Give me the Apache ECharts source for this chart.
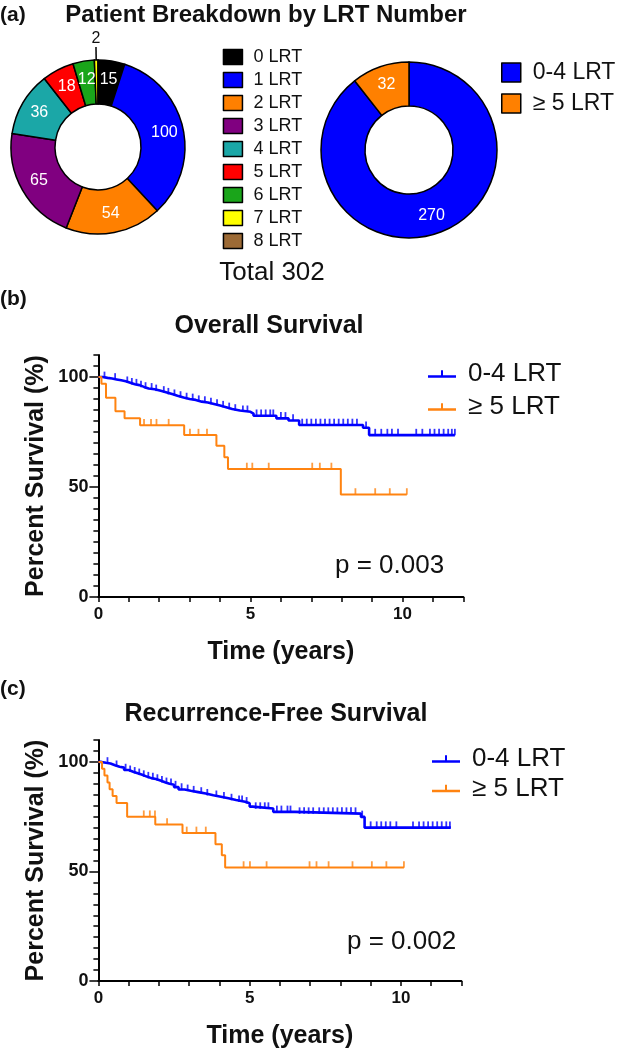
<!DOCTYPE html>
<html>
<head>
<meta charset="utf-8">
<script src="https://cdn.jsdelivr.net/npm/echarts@6/dist/echarts.min.js"></script>
<style>html,body{margin:0;padding:0;background:#fff}#c{width:617px;height:1050px}</style>
</head>
<body>
<div id="c"></div>
<script>
// ---------- DATA ----------
const lrtCategories = ['0 LRT','1 LRT','2 LRT','3 LRT','4 LRT','5 LRT','6 LRT','7 LRT','8 LRT'];
const lrtCounts = [15, 100, 54, 65, 36, 18, 12, 2, 0];
const groupCategories = ['0-4 LRT', '\u2265 5 LRT'];
const groupCounts = [270, 32];
const totalLabel = 'Total 302';
const timeTickLabels = [0, 5, 10];
const survivalTickLabels = [0, 50, 100];
const pValueOS = 'p = 0.003';
const pValueRFS = 'p = 0.002';

// Overall survival, 0-4 LRT: [years, % surviving] after each drop
const osLowSteps = [[0,100],[0.15,99.6],[0.3,99.3],[0.45,98.9],[0.6,98.5],[0.75,98.1],[0.9,97.4],[1.05,96.7],[1.2,96.3],[1.35,95.5],[1.5,94.8],[1.65,94.4],[1.85,93.7],[2.05,93.0],[2.25,92.2],[2.45,91.5],[2.6,90.7],[2.8,90.0],[3.0,89.6],[3.2,88.8],[3.4,88.4],[3.6,87.7],[3.8,87.0],[4.0,86.3],[4.2,85.5],[4.4,84.8],[4.65,84.2],[5.0,83.4],[5.1,82.4],[5.85,81.2],[6.25,80.2],[6.6,78.2],[8.7,76.9],[8.9,73.6],[11.72,73.6]];
const osLowCensor = [[0.2,99.6],[0.55,98.9],[0.95,97.4],[1.1,96.7],[1.25,96.3],[1.4,95.5],[1.55,94.8],[1.75,94.4],[1.9,93.7],[2.15,93.0],[2.3,92.2],[2.5,91.5],[2.7,90.7],[2.9,90.0],[3.1,89.6],[3.3,88.8],[3.5,88.4],[3.7,87.7],[3.9,87.0],[4.1,86.3],[4.3,85.5],[4.5,84.8],[4.75,84.2],[4.9,84.2],[5.2,82.4],[5.35,82.4],[5.5,82.4],[5.65,82.4],[5.75,82.4],[6.0,81.2],[6.15,81.2],[6.4,80.2],[6.7,78.2],[6.85,78.2],[7.0,78.2],[7.15,78.2],[7.3,78.2],[7.45,78.2],[7.6,78.2],[7.75,78.2],[7.9,78.2],[8.05,78.2],[8.2,78.2],[8.35,78.2],[8.5,78.2],[8.8,76.9],[9.1,73.6],[9.3,73.6],[9.5,73.6],[9.65,73.6],[9.85,73.6],[10.45,73.6],[10.65,73.6],[10.9,73.6],[11.05,73.6],[11.2,73.6],[11.35,73.6],[11.5,73.6],[11.62,73.6],[11.72,73.6]];
// Overall survival, >=5 LRT
const osHighSteps = [[0,100],[0.1,96.9],[0.25,90.6],[0.56,84.4],[0.86,81.3],[1.37,78.1],[2.82,73.6],[3.88,68.8],[4.14,63.5],[4.26,58.2],[7.97,46.6],[10.14,46.6]];
const osHighCensor = [[1.5,78.1],[1.73,78.1],[1.91,78.1],[2.31,78.1],[3.01,73.6],[3.29,73.6],[3.57,73.6],[4.88,58.2],[5.06,58.2],[5.6,58.2],[7.03,58.2],[7.28,58.2],[7.66,58.2],[8.45,46.6],[9.1,46.6],[9.58,46.6],[10.14,46.6]];

// Recurrence-free survival, 0-4 LRT
const rfsLowSteps = [[0,100],[0.1,99.6],[0.25,99.3],[0.4,98.5],[0.55,97.8],[0.7,97.4],[0.85,96.3],[1.0,95.5],[1.15,94.8],[1.3,94.1],[1.45,93.3],[1.6,92.6],[1.75,92.2],[1.9,91.5],[2.05,90.7],[2.2,90.0],[2.35,89.6],[2.5,88.5],[2.65,87.4],[2.85,86.8],[3.05,86.2],[3.3,85.6],[3.55,84.8],[3.8,84.1],[4.05,83.4],[4.3,82.6],[4.55,81.8],[4.85,81.1],[5.0,79.6],[5.1,78.7],[5.78,77.2],[6.5,76.4],[8.68,74.9],[8.8,70.0],[11.65,70.0]];
const rfsLowCensor = [[0.3,99.3],[0.6,97.8],[0.9,96.3],[1.05,95.5],[1.2,94.8],[1.35,94.1],[1.5,93.3],[1.65,92.6],[1.8,92.2],[1.95,91.5],[2.1,90.7],[2.25,90.0],[2.4,89.6],[2.55,88.5],[2.75,87.4],[2.95,86.8],[3.15,86.2],[3.4,85.6],[3.6,84.8],[3.9,84.1],[4.15,83.4],[4.4,82.6],[4.65,81.8],[4.75,81.8],[4.9,81.1],[5.2,78.7],[5.35,78.7],[5.5,78.7],[5.62,78.7],[5.9,77.2],[6.05,77.2],[6.25,77.2],[6.35,77.2],[6.65,76.4],[6.8,76.4],[6.95,76.4],[7.1,76.4],[7.3,76.4],[7.45,76.4],[7.6,76.4],[7.75,76.4],[7.9,76.4],[8.05,76.4],[8.2,76.4],[8.35,76.4],[8.5,76.4],[8.72,74.9],[9.0,70.0],[9.2,70.0],[9.35,70.0],[9.5,70.0],[9.65,70.0],[9.85,70.0],[10.4,70.0],[10.6,70.0],[10.75,70.0],[10.9,70.0],[11.05,70.0],[11.2,70.0],[11.35,70.0],[11.5,70.0],[11.62,70.0]];
// Recurrence-free survival, >=5 LRT
const rfsHighSteps = [[0,100],[0.12,96.9],[0.2,93.8],[0.3,90.6],[0.37,87.5],[0.47,84.4],[0.6,81.3],[0.95,75.0],[1.88,71.4],[2.78,67.6],[3.87,62.4],[4.08,57.4],[4.19,51.8],[10.1,51.8]];
const rfsHighCensor = [[1.5,75.0],[1.7,75.0],[1.87,75.0],[2.27,71.4],[2.92,67.6],[3.24,67.6],[3.55,67.6],[4.8,51.8],[5.01,51.8],[5.56,51.8],[6.98,51.8],[7.21,51.8],[7.61,51.8],[8.4,51.8],[9.04,51.8],[9.52,51.8],[10.1,51.8]];

// ---------- STYLE ----------
const FONT = '"Liberation Sans", Arial, Helvetica, sans-serif';
const TXT = '#111';
const BLUE = '#0000ff';
const ORANGE = '#ff8310';
const lrtColors = ['#000000', BLUE, '#ff8000', '#800080', '#1ba7a7', '#ff0000', '#1aa51a', '#ffff00', '#9c6a35'];
const groupColors = [BLUE, '#ff8000'];
const KM_ICON = 'path://M0,7H28V9.5H0Z M13,2H15,V7H13Z';

const chart = echarts.init(document.getElementById('c'), null, {renderer: 'canvas'});

function xAxisFor(grid) {
  return {
    gridIndex: grid, type: 'value', min: 0, max: 12, interval: 1,
    axisLine: {lineStyle: {color: '#000', width: 2}},
    axisTick: {length: 5, lineStyle: {color: '#000', width: 1.5}},
    axisLabel: {margin: 9, fontSize: 17, fontWeight: 'bold', color: TXT, fontFamily: FONT,
      formatter: v => timeTickLabels.includes(v) ? String(v) : ''},
    splitLine: {show: false},
    name: 'Time (years)', nameLocation: 'middle', nameGap: 43,
    nameTextStyle: {fontSize: 25, fontWeight: 'bold', color: TXT, fontFamily: FONT}
  };
}
function yMinorFor(grid) {
  return {
    gridIndex: grid, type: 'value', min: 0, max: 110, interval: 5,
    axisLine: {show: true, lineStyle: {color: '#000', width: 2}},
    axisTick: {show: true, length: 5, lineStyle: {color: '#000', width: 1.5}},
    axisLabel: {show: false},
    splitLine: {show: false},
    name: 'Percent Survival (%)', nameLocation: 'middle', nameGap: 50,
    nameTextStyle: {fontSize: 25, fontWeight: 'bold', color: TXT, fontFamily: FONT}
  };
}
function yMajorFor(grid) {
  return {
    gridIndex: grid, type: 'value', min: 0, max: 110, position: 'left',
    axisLine: {show: false},
    axisTick: {show: true, length: 9, customValues: survivalTickLabels, lineStyle: {color: '#000', width: 1.5}},
    axisLabel: {margin: 10, fontSize: 18, fontWeight: 'bold', color: TXT, fontFamily: FONT,
      customValues: survivalTickLabels,
      formatter: v => survivalTickLabels.includes(v) ? String(v) : ''},
    splitLine: {show: false}
  };
}
function kmLine(name, data, color, xi, yi, w) {
  return {type: 'line', name: name, xAxisIndex: xi, yAxisIndex: yi, step: 'end', data: data,
    showSymbol: false, symbol: 'none', silent: true, z: 3,
    lineStyle: {color: color, width: w}, itemStyle: {color: color}};
}
function kmCensor(name, data, color, xi, yi) {
  return {type: 'scatter', name: name, xAxisIndex: xi, yAxisIndex: yi, data: data,
    symbol: 'rect', symbolSize: [1.8, 6.5], symbolOffset: [0, -3], silent: true, z: 4,
    itemStyle: {color: color}};
}
function kmLegend(prefix, left, top, gap) {
  return {
    orient: 'vertical', left: left, top: top, padding: 0, itemGap: gap,
    itemWidth: 28, itemHeight: 10, selectedMode: false,
    data: [{name: prefix + '|' + groupCategories[0], icon: KM_ICON},
           {name: prefix + '|' + groupCategories[1], icon: KM_ICON}],
    formatter: n => n.split('|')[1],
    textStyle: {fontSize: 26, color: TXT, fontFamily: FONT, lineHeight: 27, padding: [0, 0, 0, 7]}
  };
}
function txt(text, x, y, size, weight, align) {
  return {type: 'text', x: x, y: y, silent: true,
    style: {text: text, fontSize: size, fontWeight: weight, fontFamily: FONT, fill: TXT,
      align: align, verticalAlign: 'middle'}};
}

const pieLrtData = lrtCategories.map((n, i) => {
  const d = {name: n, value: lrtCounts[i], itemStyle: {color: lrtColors[i]}};
  if (lrtCounts[i] === 0) d.label = {show: false};
  if (lrtCounts[i] > 0 && lrtCounts[i] < 5) {
    d.label = {show: true, position: 'outside', color: TXT, fontSize: 16};
    d.labelLine = {show: true, length: 10, length2: 0, lineStyle: {color: '#000', width: 1.5}};
  }
  return d;
});
const pieGroupData = groupCategories.map((n, i) => ({name: n, value: groupCounts[i], itemStyle: {color: groupColors[i]}}));

const option = {
  animation: false,
  textStyle: {fontFamily: FONT},
  grid: [
    {left: 98.4, top: 355, width: 365, height: 242, containLabel: false},
    {left: 98.4, top: 740, width: 363, height: 241, containLabel: false}
  ],
  xAxis: [xAxisFor(0), xAxisFor(1)],
  yAxis: [yMinorFor(0), yMajorFor(0), yMinorFor(1), yMajorFor(1)],
  legend: [
    {orient: 'vertical', left: 222.7, top: 48, padding: 0, itemGap: 5, itemWidth: 19, itemHeight: 15,
     icon: 'rect', selectedMode: false, data: lrtCategories,
     itemStyle: {borderColor: '#000', borderWidth: 1.5},
     textStyle: {fontSize: 18, color: TXT, fontFamily: FONT, lineHeight: 15, padding: [0, 0, 0, 6]}},
    {orient: 'vertical', left: 501, top: 61, padding: 0, itemGap: 8, itemWidth: 19, itemHeight: 19,
     icon: 'rect', selectedMode: false, data: groupCategories,
     itemStyle: {borderColor: '#000', borderWidth: 1.5},
     textStyle: {fontSize: 23, color: TXT, fontFamily: FONT, lineHeight: 19, padding: [0, 0, 0, 7]}},
    kmLegend('OS', 428, 360.5, 6),
    kmLegend('RFS', 432, 745.5, 2.5)
  ],
  graphic: [
    txt('(a)', 0, 15, 21, 'bold', 'left'),
    txt('Patient Breakdown by LRT Number', 266, 15, 24, 'bold', 'center'),
    txt(totalLabel, 272, 273, 26, 'normal', 'center'),
    txt('(b)', 0, 299, 21, 'bold', 'left'),
    txt('Overall Survival', 269, 326, 25, 'bold', 'center'),
    txt(pValueOS, 335, 566, 26, 'normal', 'left'),
    txt('(c)', 0, 689, 21, 'bold', 'left'),
    txt('Recurrence-Free Survival', 276, 714, 25, 'bold', 'center'),
    txt(pValueRFS, 347, 942, 26, 'normal', 'left')
  ],
  series: [
    {type: 'pie', name: 'lrt', center: [98, 147], radius: [43, 87], startAngle: 90, clockwise: true,
     avoidLabelOverlap: false, silent: true,
     itemStyle: {borderColor: '#000', borderWidth: 1.5},
     label: {show: true, position: 'inside', color: '#fff', fontSize: 16, fontFamily: FONT, formatter: '{c}'},
     labelLine: {show: false},
     labelLayout: p => {
       if (p.dataIndex === 7 && p.labelLinePoints) {
         const pt = p.labelLinePoints[p.labelLinePoints.length - 1];
         return {x: pt[0], y: pt[1] - 3, align: 'center', verticalAlign: 'bottom'};
       }
       return {};
     },
     data: pieLrtData},
    {type: 'pie', name: 'group', center: [409, 150], radius: [44, 88], startAngle: 90, clockwise: true,
     avoidLabelOverlap: false, silent: true,
     itemStyle: {borderColor: '#000', borderWidth: 1.5},
     label: {show: true, position: 'inside', color: '#fff', fontSize: 16, fontFamily: FONT, formatter: '{c}'},
     labelLine: {show: false},
     data: pieGroupData},
    kmLine('OS|' + groupCategories[0], osLowSteps, BLUE, 0, 0, 2.6),
    kmLine('OS|' + groupCategories[1], osHighSteps, ORANGE, 0, 0, 2),
    kmCensor('osLowCensor', osLowCensor, BLUE, 0, 0),
    kmCensor('osHighCensor', osHighCensor, ORANGE, 0, 0),
    kmLine('RFS|' + groupCategories[0], rfsLowSteps, BLUE, 1, 2, 2.6),
    kmLine('RFS|' + groupCategories[1], rfsHighSteps, ORANGE, 1, 2, 2),
    kmCensor('rfsLowCensor', rfsLowCensor, BLUE, 1, 2),
    kmCensor('rfsHighCensor', rfsHighCensor, ORANGE, 1, 2)
  ]
};
chart.setOption(option);
</script>
</body>
</html>
